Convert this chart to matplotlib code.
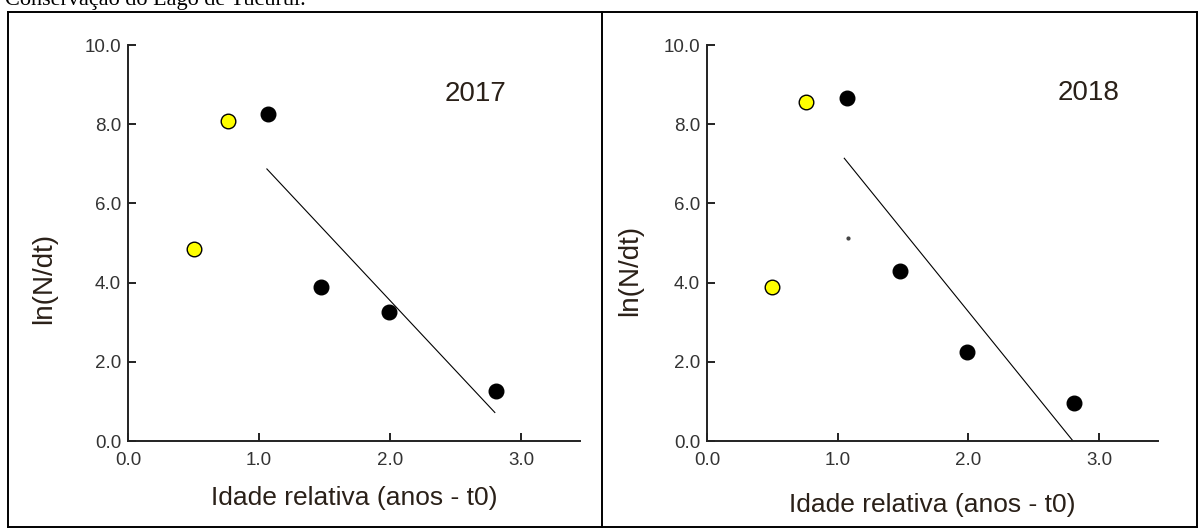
import matplotlib
matplotlib.use("Agg")
import matplotlib.pyplot as plt
from matplotlib.lines import Line2D
from matplotlib.ticker import FormatStrFormatter

# 2017 panel
x17_yellow = [0.50, 0.76]
y17_yellow = [4.84, 8.08]
x17_black = [1.07, 1.47, 1.99, 2.81]
y17_black = [8.27, 3.89, 3.26, 1.26]
x17_line = [1.06, 2.80]
y17_line = [6.87, 0.72]

# 2018 panel
x18_yellow = [0.50, 0.76]
y18_yellow = [3.88, 8.55]
x18_black = [1.07, 1.48, 1.99, 2.81]
y18_black = [8.67, 4.30, 2.24, 0.96]
x18_dot = [1.08]
y18_dot = [5.12]
x18_line = [1.05, 2.80]
y18_line = [7.14, 0.0]

years = ["2017", "2018"]
xticks = [0.0, 1.0, 2.0, 3.0]
yticks = [0.0, 2.0, 4.0, 6.0, 8.0, 10.0]

TXT = "#2a2018"
AX = "#222222"

plt.rcParams["font.family"] = ["Liberation Sans", "DejaVu Sans"]

fig = plt.figure(figsize=(12, 5.28), dpi=100)

# page caption (partly cut off at the top, as on the page)
fig.text(5 / 1200, 1 - 5 / 528, "Conservação do Lago de Tucuruí.",
         family=["Liberation Serif", "DejaVu Serif"], fontsize=16,
         ha="left", va="baseline", color="black")

# table frame
for xs, ys in [([8, 8], [12, 528]), ([8, 1197], [12, 12]),
               ([1197, 1197], [12, 528]), ([602, 602], [12, 528]),
               ([8, 1197], [527, 527])]:
    fig.add_artist(Line2D([x / 1200 for x in xs], [1 - y / 528 for y in ys],
                          color="black", lw=1.4, transform=fig.transFigure))

panels = [
    dict(rect=[128 / 1200, 87 / 528, 452 / 1200, 396 / 528],
         xy=(x17_yellow, y17_yellow), bk=(x17_black, y17_black),
         ln=(x17_line, y17_line), dot=None, year=years[0], ypos=(2.42, 8.58),
         xlab_pad=12, ylab=(-0.157, 0.41)),
    dict(rect=[707 / 1200, 87 / 528, 451 / 1200, 396 / 528],
         xy=(x18_yellow, y18_yellow), bk=(x18_black, y18_black),
         ln=(x18_line, y18_line), dot=(x18_dot, y18_dot), year=years[1],
         ypos=(2.68, 8.6), xlab_pad=17, ylab=(-0.142, 0.43)),
]

for p in panels:
    ax = fig.add_axes(p["rect"])
    ax.plot(*p["ln"], color="black", lw=0.8)
    ax.plot(*p["xy"], "o", color="#ffff00", markeredgecolor="black",
            markeredgewidth=1.0, markersize=10.5, linestyle="none")
    ax.plot(*p["bk"], "o", color="black", markersize=10.5, linestyle="none")
    if p["dot"] is not None:
        ax.plot(*p["dot"], "o", color="#444444", markersize=2,
                linestyle="none")
    ax.text(*p["ypos"], p["year"], fontsize=20, color=TXT,
            ha="left", va="baseline")
    ax.set_xlim(0, 3.45)
    ax.set_ylim(0, 10)
    ax.set_xticks(xticks)
    ax.set_yticks(yticks)
    ax.xaxis.set_major_formatter(FormatStrFormatter("%.1f"))
    ax.yaxis.set_major_formatter(FormatStrFormatter("%.1f"))
    for s in ["top", "right"]:
        ax.spines[s].set_visible(False)
    for s in ["left", "bottom"]:
        ax.spines[s].set_linewidth(1.4)
        ax.spines[s].set_color(AX)
    ax.tick_params(direction="in", length=6, width=1.4, color=AX,
                   labelsize=13.5, labelcolor="#333333")
    ax.tick_params(axis="x", pad=8)
    ax.tick_params(axis="y", pad=5)
    ax.set_xlabel("Idade relativa (anos - t0)", fontsize=19, color=TXT,
                  labelpad=p["xlab_pad"])
    ax.set_ylabel("ln(N/dt)", fontsize=20, color=TXT)
    ax.yaxis.set_label_coords(*p["ylab"])

fig.savefig("out.png", dpi=100)
